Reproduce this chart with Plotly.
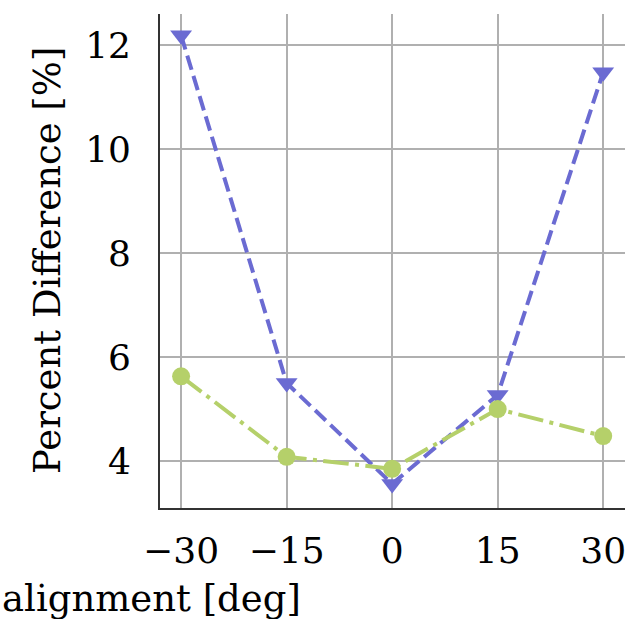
import plotly.graph_objects as go

angles = [-30, -15, 0, 15, 30]
blue_vals = [12.19, 5.50, 3.56, 5.27, 11.48]
green_vals = [5.63, 4.08, 3.85, 5.00, 4.48]
x_ticks = [-30, -15, 0, 15, 30]
y_ticks = [4, 6, 8, 10, 12]

W, H = 631, 619
ml, mr, mt, mb = 160, 6, 14, 111
pw, ph = W - ml - mr, H - mt - mb
FONT = "DejaVu Serif"
FS = 36
TFS = 37

fig = go.Figure()
fig.add_trace(go.Scatter(
    x=angles, y=blue_vals, mode="lines+markers",
    line=dict(color="#6b6bd2", width=4, dash="14.8px,6.4px"),
    marker=dict(symbol="triangle-down", size=19, color="#6b6bd2"),
    showlegend=False))
fig.add_trace(go.Scatter(
    x=angles, y=green_vals, mode="lines+markers",
    line=dict(color="#b5d06a", width=4, dash="25.6px,6.4px,4px,6.4px"),
    marker=dict(symbol="circle", size=18, color="#b5d06a"),
    showlegend=False))

fig.update_layout(
    width=W, height=H,
    margin=dict(l=ml, r=mr, t=mt, b=mb, autoexpand=False),
    paper_bgcolor="white", plot_bgcolor="white",
    font=dict(family=FONT, size=FS, color="black"),
    xaxis=dict(range=[-33, 33.1], tickvals=x_ticks, showgrid=True,
               gridcolor="#b0b0b0", gridwidth=1.6, zeroline=False,
               showline=True, linecolor="#333333", linewidth=1.6,
               ticks="", ticklabelstandoff=10, automargin=False),
    yaxis=dict(range=[3.096, 12.6], tickvals=y_ticks, showgrid=True,
               gridcolor="#b0b0b0", gridwidth=1.6, zeroline=False,
               showline=True, linecolor="#333333", linewidth=1.6,
               ticks="", ticklabelstandoff=20, automargin=False),
    annotations=[
        dict(text="Percent Difference [%]", textangle=-90, xref="paper", yref="paper",
             x=(47 - ml) / pw, y=0.5, xanchor="center", yanchor="middle",
             showarrow=False, font=dict(family=FONT, size=TFS)),
        dict(text="alignment [deg]", xref="paper", yref="paper",
             x=-ml / pw, y=-(598 - mt - ph) / ph, xanchor="left", yanchor="middle",
             showarrow=False, font=dict(family=FONT, size=TFS)),
    ],
)
fig.write_html("out.html", config={"displayModeBar": False},
               post_script="document.body.style.margin='0';")
